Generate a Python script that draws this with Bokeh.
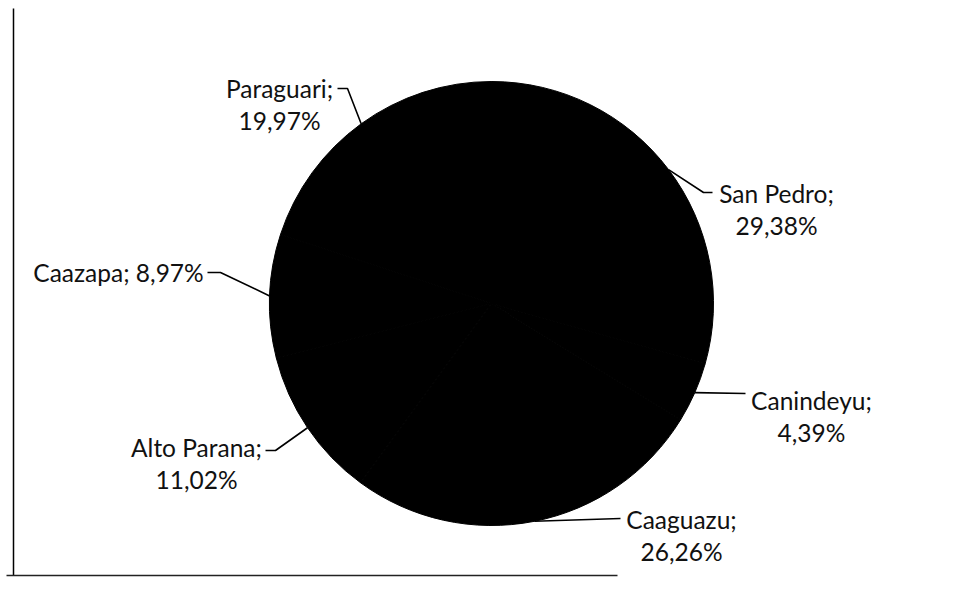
import math
from bokeh.plotting import figure
from bokeh.models import Range1d, ColumnDataSource
from bokeh.embed import file_html
from bokeh.resources import INLINE
from bokeh.core.properties import value

# ---- data ----
regions = ["San Pedro", "Canindeyu", "Caaguazu", "Alto Parana", "Caazapa", "Paraguari"]
shares = [29.38, 4.39, 26.26, 11.02, 8.97, 19.97]

# ---- layout (reference pixel coordinates) ----
W, H = 942, 577
CX, CY, R = 491, 303, 222
FONT = "Lato"
FSIZE = "24.5px"

# label block: (center x, first-line baseline y, two lines?)
label_pos = {
    "San Pedro": (776, 193, True),
    "Canindeyu": (811, 400, True),
    "Caaguazu": (681, 519, True),
    "Alto Parana": (196, 447, True),
    "Caazapa": (118, 272, False),
    "Paraguari": (279, 88, True),
}
LINE_GAP = 32
# leader points on the label side (from label end toward pie)
leader_pts = {
    "San Pedro": [(712, 192), (703, 192)],
    "Canindeyu": [(745, 393)],
    "Caaguazu": [(620, 518)],
    "Alto Parana": [(265, 450), (275, 450)],
    "Caazapa": [(207, 272), (220, 272)],
    "Paraguari": [(337, 88), (347, 88)],
}


def X(px):
    return px


def Y(py):
    return H - py


def fmt(v):
    return f"{v:.2f}".replace(".", ",") + "%"


p = figure(width=W, height=H, x_range=Range1d(0, W), y_range=Range1d(0, H),
           output_backend="svg", toolbar_location=None,
           x_axis_location=None, y_axis_location=None, min_border=0)
p.grid.visible = False
p.outline_line_color = None
p.background_fill_color = "white"
p.border_fill_color = "white"

# ---- pie ----
total = sum(shares)
starts, ends, mids = [], [], []
cum = 0.0
for v in shares:
    a0 = cum / total * 2 * math.pi
    a1 = (cum + v) / total * 2 * math.pi
    starts.append(math.pi / 2 - a0)
    ends.append(math.pi / 2 - a1)
    mids.append((a0 + a1) / 2)
    cum += v

src = ColumnDataSource(dict(start=starts, end=ends, region=regions))
p.wedge(x=X(CX), y=Y(CY), radius=R, start_angle="start", end_angle="end",
        direction="clock", fill_color="black", line_color="black",
        line_width=1, source=src)

# ---- leader lines ----
xs, ys = [], []
for reg, th in zip(regions, mids):
    ex = CX + R * math.sin(th)
    ey = CY - R * math.cos(th)
    pts = leader_pts[reg] + [(ex, ey)]
    xs.append([X(a) for a, b in pts])
    ys.append([Y(b) for a, b in pts])
p.multi_line(xs=xs, ys=ys, line_color="black", line_width=1.6)

# ---- labels ----
tx, ty, tt = [], [], []
for reg, v in zip(regions, shares):
    cx, by, two = label_pos[reg]
    if two:
        tx += [X(cx), X(cx)]
        ty += [Y(by), Y(by + LINE_GAP)]
        tt += [reg + ";", fmt(v)]
    else:
        tx.append(X(cx))
        ty.append(Y(by))
        tt.append(reg + "; " + fmt(v))
p.text(x=tx, y=ty, text=tt, text_font=value(FONT), text_font_size=FSIZE,
       text_align="center", text_baseline="alphabetic", text_color="#111111")

# ---- scanned frame edges ----
p.line(x=[X(13), X(13)], y=[Y(8), Y(575)], line_color="black", line_width=1.5)
p.line(x=[X(6), X(617)], y=[Y(575), Y(575)], line_color="#222222", line_width=1.5)

open("out.html", "w").write(file_html(p, INLINE))
